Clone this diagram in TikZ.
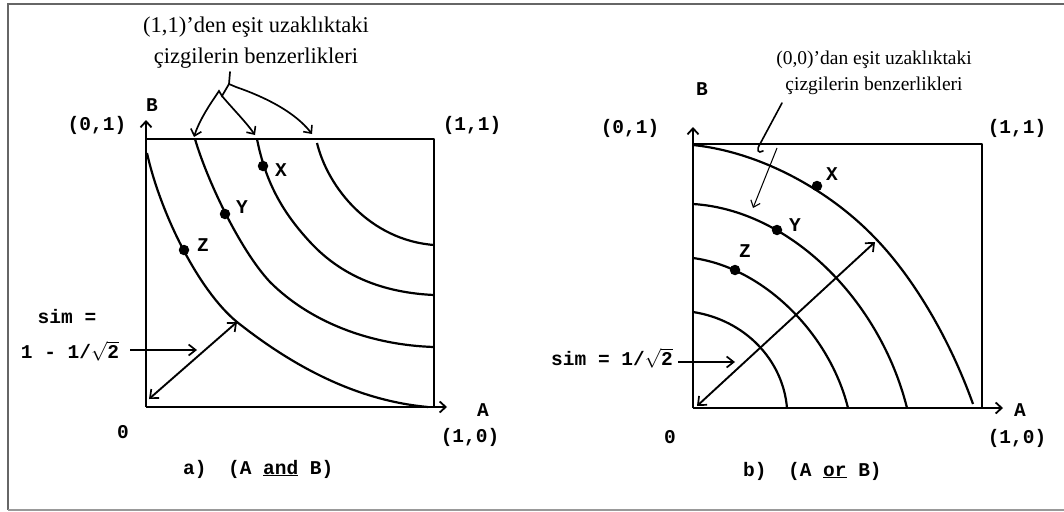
\documentclass[tikz,border=0pt]{standalone}
\usepackage{fix-cm}
\usepackage{fontspec}
\setmainfont{Liberation Serif}
\newfontfamily\mono{Liberation Mono}
\usetikzlibrary{arrows.meta}
\tikzset{
  frameline/.style={draw=black!60, line width=1.3pt},
  frameline2/.style={draw=black!40, line width=1.3pt},
  boxline/.style={line width=2.3pt, line join=round},
  curve/.style={line width=2.2pt},
  axisarrow/.style={line width=2.3pt, -{Straight Barb[length=6pt,width=11pt,line width=1.8pt]}},
  lbl/.style={font=\mono\bfseries\fontsize{19.5}{22}\selectfont, inner sep=0pt},
  noteA/.style={font=\fontsize{22.5}{31}\selectfont, align=center, inner sep=0pt},
  noteB/.style={font=\fontsize{19.5}{26}\selectfont, align=center, inner sep=0pt},
  dot/.style={circle, fill=black, inner sep=0pt, minimum size=10.5pt},
  pointer/.style={line width=1.7pt, line cap=round, -{Straight Barb[length=6pt,width=11pt,line width=1.6pt]}},
  thinpointer/.style={line width=1pt, -{Straight Barb[length=6pt,width=10pt,line width=1.1pt]}},
  dblarrow/.style={line width=1.9pt, {Straight Barb[length=7pt,width=12pt,line width=1.7pt]}-{Straight Barb[length=7pt,width=12pt,line width=1.7pt]}},
  simarrow/.style={line width=1.8pt, -{Straight Barb[length=7pt,width=11pt,line width=1.7pt]}},
}
\begin{document}
\begin{tikzpicture}[x=1pt,y=-1pt]
\useasboundingbox (0,0) rectangle (1064,511);
% outer frame
\draw[frameline] (1064,4) -- (8,4) -- (8,510);
\draw[frameline2] (8,510) -- (1064,510);

%%%%%%%%%%%%%%%% panel a
\coordinate (aO) at (146,407);
\coordinate (aB) at (146,120);
\coordinate (aA) at (447,407);
\coordinate (aTL) at (146,139);
\coordinate (aTR) at (434,139);
\coordinate (aBR) at (434,407);
\draw[axisarrow] (aO) -- (aB);
\draw[axisarrow] (aO) -- (aA);
\draw[boxline] (aTL) -- (aTR) -- (aBR);

\draw[curve] (147,153) .. controls (160,212) and (198,290) .. (237,322)
                       .. controls (285,360) and (350,400) .. (428,407);
\draw[curve] (195,139) .. controls (207,180) and (240,250) .. (270,282)
                       .. controls (310,322) and (370,345) .. (434,347);
\draw[curve] (257,139) .. controls (266,185) and (285,215) .. (310,242)
                       .. controls (345,280) and (390,293) .. (434,295);
\draw[curve] (317,143) .. controls (328,188) and (370,240) .. (434,245);

\node[dot] (aX) at (263,166) {};
\node[dot] (aY) at (225,214) {};
\node[dot] (aZ) at (184,250) {};
\node[lbl] (aXl) at (281,170) {X};
\node[lbl] (aYl) at (242,207) {Y};
\node[lbl] (aZl) at (203,245) {Z};

\node[lbl] (a01) at (97,125) {(0,1)};
\node[lbl] (a11) at (472,125) {(1,1)};
\node[lbl] (aBl) at (152,105) {B};
\node[lbl] (aAl) at (483,410) {A};
\node[lbl] (a10) at (470,437) {(1,0)};
\node[lbl] (a0) at (123,432) {0};
\node[lbl, anchor=base west] (acap) at (183,474) {a)\hspace{1.1em}(A \underline{and} B)};

\node[lbl] (asim1) at (67,317) {sim =};
\node[lbl] (asim2) at (70,351) {1 - 1/$\sqrt{\hbox{\mono\bfseries 2}}$};
\coordinate (asimS) at (130,350);
\coordinate (asimE) at (197,350);
\draw[simarrow] (asimS) -- (asimE);
\coordinate (adA) at (149,399);
\coordinate (adB) at (237,322);
\draw[dblarrow] (adA) -- (adB);

\node[noteA] (annA) at (256,43) {(1,1)'den eşit uzaklıktaki\\çizgilerin benzerlikleri};
\coordinate (la0) at (230,72);
\coordinate (la1) at (229,84);
\coordinate (la2) at (222,96);
\coordinate (tA1) at (194,137);
\coordinate (tA2) at (255,135);
\coordinate (tA3) at (312,134);
\draw[pointer] (la0) -- (la1) -- (236,87) .. controls (265,97) and (295,112) .. (tA3);
\draw[pointer] (la1) -- (la2) -- (219,91) -- (215,97) .. controls (206,110) and (198,124) .. (tA1);
\draw[pointer] (la2) .. controls (232,108) and (246,122) .. (tA2);

%%%%%%%%%%%%%%%% panel b
\coordinate (bO) at (693,408);
\coordinate (bB) at (693,127);
\coordinate (bA) at (1003,408);
\coordinate (bTL) at (693,144);
\coordinate (bTR) at (982,144);
\coordinate (bBR) at (982,408);
\draw[axisarrow] (bO) -- (bB);
\draw[axisarrow] (bO) -- (bA);
\draw[boxline] (bTL) -- (bTR) -- (bBR);

\draw[curve] (693,145) .. controls (760,152) and (830,190) .. (877,240)
                       .. controls (915,280) and (950,340) .. (973,404);
\draw[curve] (693,204) .. controls (790,210) and (880,300) .. (907,408);
\draw[curve] (693,258) .. controls (765,268) and (830,335) .. (848,408);
\draw[curve] (693,312) .. controls (745,320) and (783,360) .. (787,408);

\node[dot] (bX) at (817,186) {};
\node[dot] (bY) at (777,230) {};
\node[dot] (bZ) at (735,270) {};
\node[lbl] (bXl) at (832,174) {X};
\node[lbl] (bYl) at (795,225) {Y};
\node[lbl] (bZl) at (745,251) {Z};

\node[lbl] (b01) at (630,128) {(0,1)};
\node[lbl] (b11) at (1017,128) {(1,1)};
\node[lbl] (bBl) at (702,89) {B};
\node[lbl] (bAl) at (1020,410) {A};
\node[lbl] (b10) at (1017,438) {(1,0)};
\node[lbl] (b0) at (670,437) {0};
\node[lbl, anchor=base west] (bcap) at (743,476) {b)\hspace{1.1em}(A \underline{or} B)};

\node[lbl, anchor=east] (bsim) at (673,358) {sim = 1/$\sqrt{\hbox{\mono\bfseries 2}}$};
\coordinate (bsimS) at (678,362);
\coordinate (bsimE) at (735,362);
\draw[simarrow] (bsimS) -- (bsimE);
\coordinate (bdA) at (697,406);
\coordinate (bdB) at (875,242);
\draw[dblarrow] (bdA) -- (bdB);

\node[noteB] (annB) at (874,73) {(0,0)'dan eşit uzaklıktaki\\çizgilerin benzerlikleri};
\coordinate (lb0) at (782,103);
\coordinate (lb1) at (760,144);
\draw[line width=1.6pt, line cap=round] (lb0) -- (lb1) .. controls (756,150) and (758,154) .. (763,151);
\coordinate (lb2) at (777,148);
\coordinate (tB2) at (753,208);
\draw[thinpointer] (lb2) -- (tB2);
\end{tikzpicture}
\end{document}
